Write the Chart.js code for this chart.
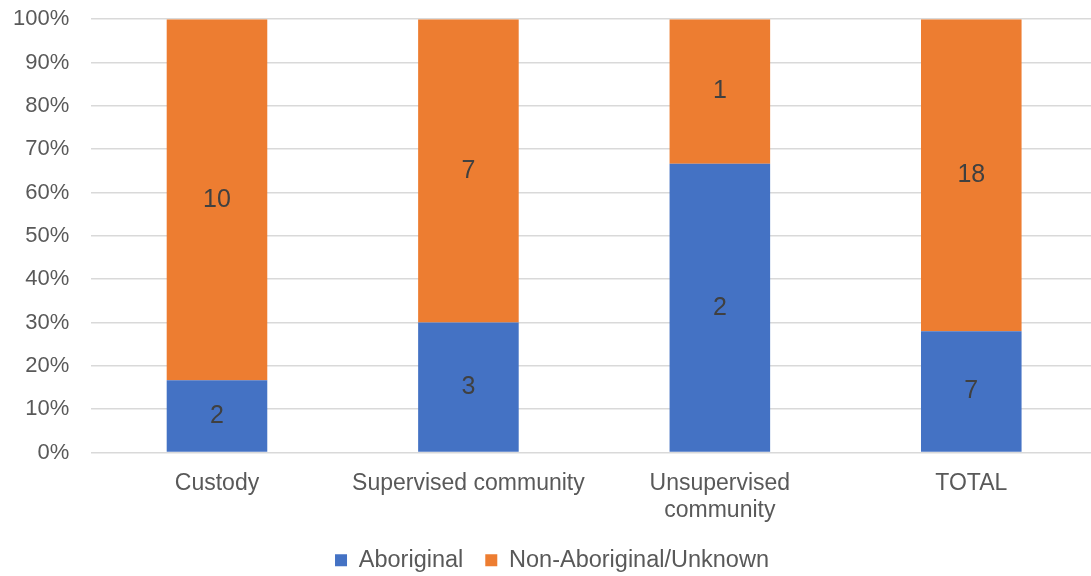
<!DOCTYPE html>
<html>
<head>
<meta charset="utf-8">
<script src="https://cdn.jsdelivr.net/npm/chart.js@4/dist/chart.umd.min.js"></script>
<style>
  html, body { margin: 0; padding: 0; background: #fff; overflow: hidden; }
  #wrap { position: relative; width: 1100px; height: 576px; }
</style>
</head>
<body>
<div id="wrap"><canvas id="chart"></canvas></div>
<script>
// 집단별 인원수 (막대 안 숫자) — 비율은 여기서 계산한다
const categories = ["Custody", "Supervised community", ["Unsupervised", "community"], "TOTAL"];
const aboriginal = [2, 3, 2, 7];
const nonAboriginal = [10, 7, 1, 18];
const seriesNames = ["Aboriginal", "Non-Aboriginal/Unknown"];
const yTicks = [0, 10, 20, 30, 40, 50, 60, 70, 80, 90, 100];

const totals = aboriginal.map((v, i) => v + nonAboriginal[i]);
const pct = (arr) => arr.map((v, i) => (v / totals[i]) * 100);

const FONT = "'Liberation Sans', Arial, sans-serif";

// 각 구간 가운데에 인원수를 적는다
const countLabels = {
  id: "countLabels",
  afterDatasetsDraw(chart) {
    const { ctx } = chart;
    ctx.save();
    ctx.font = "25px " + FONT;
    ctx.fillStyle = "#404040";
    ctx.textAlign = "center";
    ctx.textBaseline = "middle";
    chart.data.datasets.forEach((ds, di) => {
      chart.getDatasetMeta(di).data.forEach((bar, i) => {
        ctx.fillText(String(ds.counts[i]), bar.x, (bar.y + bar.base) / 2);
      });
    });
    ctx.restore();
  },
};

new Chart(document.getElementById("chart"), {
  type: "bar",
  data: {
    labels: categories,
    datasets: [
      { label: seriesNames[0], data: pct(aboriginal), counts: aboriginal, backgroundColor: "#4472C4" },
      { label: seriesNames[1], data: pct(nonAboriginal), counts: nonAboriginal, backgroundColor: "#ED7D31" },
    ],
  },
  options: {
    responsive: true,
    maintainAspectRatio: false,
    animation: false,
    layout: { padding: { top: 0, left: 7, right: 3, bottom: -6 } },
    datasets: { bar: { categoryPercentage: 1, barPercentage: 0.4 } },
    scales: {
      x: {
        stacked: true,
        grid: { display: false, drawTicks: false },
        border: { display: false },
        ticks: { color: "#595959", font: { family: FONT, size: 23 }, padding: 17, maxRotation: 0, autoSkip: false },
        // 두 줄 라벨 때문에 생기는 여분 높이를 줄인다 (라벨이 잘리지 않는 만큼은 남긴다)
        afterFit(axis) { axis.height = 74; },
      },
      y: {
        stacked: true,
        min: 0,
        max: 100,
        afterBuildTicks(axis) { axis.ticks = yTicks.map((v) => ({ value: v })); },
        // 눈금 표시는 투명하게 두고 라벨과 격자 사이 간격으로만 쓴다
        grid: { color: "#D9D9D9", lineWidth: 1.5, drawTicks: true, tickLength: 16, tickColor: "rgba(0,0,0,0)" },
        border: { display: false },
        ticks: { color: "#595959", font: { family: FONT, size: 22 }, padding: 6, callback: (v) => v + "%" },
      },
    },
    plugins: {
      legend: {
        position: "bottom",
        labels: { color: "#595959", font: { family: FONT, size: 23.5 }, boxWidth: 12, boxHeight: 12, padding: 22 },
      },
      tooltip: { enabled: false },
    },
  },
  plugins: [countLabels],
});
</script>
</body>
</html>
